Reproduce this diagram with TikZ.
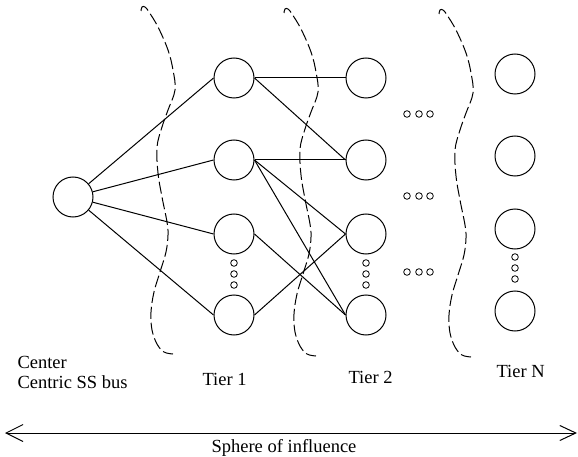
\documentclass[tikz,border=0pt]{standalone}
\usepackage{fontspec}
\setmainfont{Liberation Serif}
\usetikzlibrary{arrows.meta}
\begin{document}
\begin{tikzpicture}[x=1pt,y=-1pt,line width=1pt,
  bus/.style={circle,draw,minimum size=40pt,inner sep=0pt},
  dot/.style={circle,draw,line width=0.8pt,minimum size=6.6pt,inner sep=0pt},
  link/.style={draw},
  boundary/.style={draw,dash pattern=on 12pt off 4pt},
  lbl/.style={inner sep=0pt,font=\fontsize{18.5}{22}\selectfont}]
\useasboundingbox (0,0) rectangle (578,457);

% central bus
\node[bus] (C) at (73,197) {};

% tier 1
\node[bus] (A1) at (234,78) {};
\node[bus] (A2) at (234,160) {};
\node[bus] (A3) at (234,234) {};
\node[bus] (A4) at (234,315) {};

% tier 2
\node[bus] (B1) at (366,78) {};
\node[bus] (B2) at (366,160) {};
\node[bus] (B3) at (366,234) {};
\node[bus] (B4) at (366,315) {};

% tier N
\node[bus] (N1) at (515,74) {};
\node[bus] (N2) at (515,156) {};
\node[bus] (N3) at (515,229) {};
\node[bus] (N4) at (515,311) {};

% vertical ellipses
\foreach \y [count=\i] in {263,274,285} {
  \node[dot] (va\i) at (234,\y) {};
  \node[dot] (vb\i) at (366,\y) {};
}
\foreach \y [count=\i] in {257,268,279} \node[dot] (vn\i) at (515,\y) {};

% horizontal ellipses
\foreach \y [count=\j] in {114,196,272}
  \foreach \x [count=\i] in {407,419,430}
    \node[dot] (h\j\i) at (\x,\y) {};

% connections
\foreach \t in {A1,A2,A3,A4} \draw[link] (C) -- (\t.west);
\draw[link] (A1.east) -- (B1.west);
\draw[link] (A1.east) -- (B2.west);
\draw[link] (A2.east) -- (B2.west);
\draw[link] (A2.east) -- (B3.west);
\draw[link] (A2.east) -- (B4.west);
\draw[link] (A3.east) -- (B4.west);
\draw[link] (A4.east) -- (B3.west);

% tier boundaries
\foreach \dx/\dy in {0/0, 143/2, 298/3}
  \draw[boundary,shift={(\dx,\dy)}] plot[smooth,tension=0.6] coordinates {
    (141,11) (142,7) (145,7) (149,12) (158,27) (168,50) (173,70) (175,90)
    (168,110) (162,127) (157,147) (158,173) (162,197) (167,222) (168,235)
    (166,252) (160,272) (154,292) (151,312) (152,330) (157,344) (164,352) (173,354)};

% labels
\node[lbl,anchor=base west] (lc1) at (17,368) {Center};
\node[lbl,anchor=base west] (lc2) at (17,388) {Centric SS bus};
\node[lbl,anchor=base west] (l1) at (202,385) {Tier 1};
\node[lbl,anchor=base west] (l2) at (348,383) {Tier 2};
\node[lbl,anchor=base west] (lN) at (496,377) {Tier N};

% sphere of influence
\coordinate (sL) at (5,433);
\coordinate (sR) at (577,433);
\draw[{Straight Barb[length=17pt,width=17pt]}-{Straight Barb[length=16pt,width=15pt]}] (sL) -- (sR);
\node[lbl,anchor=base] (ls) at (284,452) {Sphere of influence};
\end{tikzpicture}
\end{document}
